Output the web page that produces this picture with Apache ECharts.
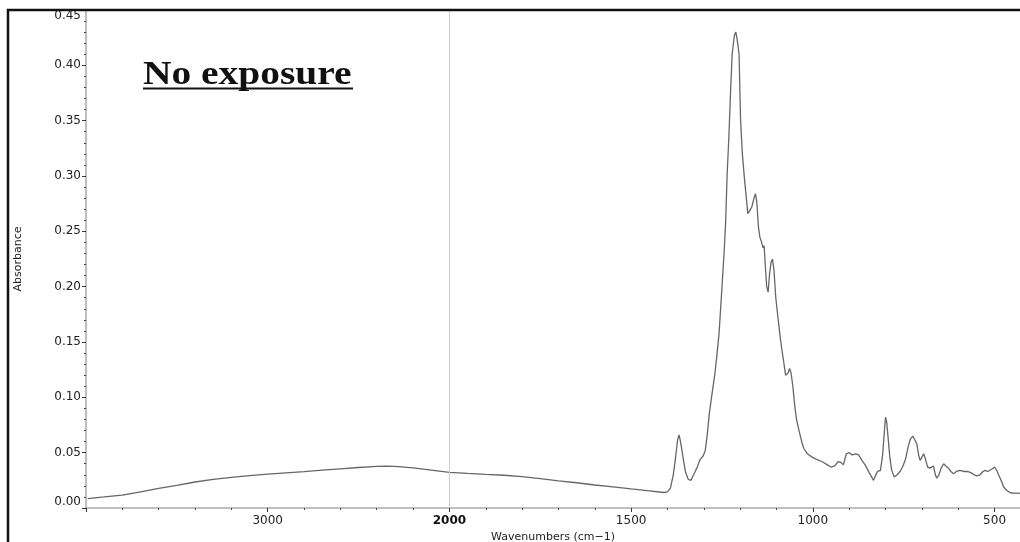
<!DOCTYPE html>
<html>
<head>
<meta charset="utf-8">
<script src="https://cdn.jsdelivr.net/npm/echarts@6/dist/echarts.min.js"></script>
<style>
    html, body { margin: 0; padding: 0; background: #fff; }
    #chart { width: 1020px; height: 542px; }
</style>
</head>
<body>
<div id="chart"></div>
<script>
(function (window) {
    "use strict";

    // 波数 (cm-1)，从高到低
    var wavenumbers = [
        3990, 3900, 3800, 3700, 3600, 3500, 3400, 3300, 3200, 3100, 3000, 2900, 2800, 2700, 2600, 2500,
        2400, 2340, 2280, 2200, 2100, 2000, 1950, 1900, 1850, 1800, 1750, 1700, 1650, 1600, 1550, 1500,
        1450, 1410, 1400, 1392, 1384, 1378, 1372, 1368, 1363, 1356, 1350, 1343, 1336, 1328, 1318, 1310,
        1302, 1296, 1291, 1285, 1278, 1270, 1265, 1258, 1250, 1244, 1240, 1236, 1231, 1226, 1222, 1216,
        1212, 1209, 1206, 1203, 1199, 1194, 1188, 1183, 1179, 1175, 1168, 1162, 1158, 1154, 1150, 1146,
        1141, 1137, 1134, 1131, 1127, 1123, 1119, 1115, 1111, 1107, 1102, 1096, 1089, 1082, 1075, 1068,
        1064, 1060, 1055, 1050, 1045, 1038, 1030, 1025, 1015, 1002, 990, 975, 960, 950, 940, 930,
        922, 916, 908, 900, 892, 882, 874, 865, 856, 845, 833, 828, 822, 814, 808, 803,
        800, 797, 793, 788, 783, 776, 768, 760, 752, 745, 738, 732, 725, 720, 714, 709,
        705, 700, 695, 690, 684, 678, 673, 668, 663, 659, 653, 647, 640, 634, 627, 620,
        613, 605, 595, 585, 575, 565, 556, 549, 540, 532, 526, 519, 514, 508, 500, 494,
        489, 482, 475, 467, 458, 450, 440, 430
    ];

    // 吸光度
    var absorbance = [
        0.0085, 0.0100, 0.0117, 0.0145, 0.0177, 0.0205, 0.0235, 0.0258, 0.0276, 0.0292, 0.0307, 0.0318, 0.0329, 0.0342, 0.0354, 0.0366,
        0.0376, 0.0379, 0.0374, 0.0362, 0.0342, 0.0322, 0.0312, 0.0303, 0.0296, 0.0283, 0.0266, 0.0246, 0.0228, 0.0208, 0.0190, 0.0172,
        0.0155, 0.0140, 0.0145, 0.0180, 0.030, 0.045, 0.062, 0.066, 0.058, 0.043, 0.032, 0.026, 0.025, 0.030, 0.037, 0.044,
        0.047, 0.052, 0.065, 0.085, 0.102, 0.120, 0.135, 0.158, 0.200, 0.232, 0.258, 0.300, 0.336, 0.380, 0.410, 0.427,
        0.430, 0.425, 0.418, 0.410, 0.352, 0.320, 0.297, 0.280, 0.266, 0.268, 0.272, 0.280, 0.284, 0.276, 0.255, 0.245,
        0.240, 0.235, 0.237, 0.220, 0.200, 0.195, 0.212, 0.222, 0.225, 0.215, 0.190, 0.172, 0.152, 0.136, 0.120, 0.122,
        0.126, 0.122, 0.110, 0.093, 0.080, 0.070, 0.059, 0.054, 0.049, 0.046, 0.044, 0.042, 0.039, 0.037, 0.038, 0.042,
        0.041, 0.039, 0.049, 0.050, 0.048, 0.049, 0.048, 0.043, 0.039, 0.032, 0.025, 0.029, 0.033, 0.034, 0.048, 0.070,
        0.082, 0.078, 0.064, 0.045, 0.034, 0.028, 0.030, 0.033, 0.038, 0.044, 0.055, 0.062, 0.065, 0.064, 0.058, 0.048,
        0.043, 0.046, 0.049, 0.044, 0.037, 0.036, 0.036, 0.038, 0.030, 0.027, 0.030, 0.036, 0.040, 0.038, 0.036, 0.033,
        0.031, 0.033, 0.034, 0.033, 0.033, 0.032, 0.030, 0.029, 0.030, 0.033, 0.034, 0.033, 0.032, 0.035, 0.037, 0.034,
        0.030, 0.025, 0.019, 0.016, 0.014, 0.0135, 0.0135, 0.0133
    ];

    // 横轴刻度标签
    var xTicks = [3000, 2000, 1500, 1000, 500];
    var yTicks = [0, 0.05, 0.10, 0.15, 0.20, 0.25, 0.30, 0.35, 0.40, 0.45];

    /**
     * 红外谱图横轴在 2000 处换比例：2000 以上每格 1000，2000 以下每格 500
     */
    var toAxis = function (w) {
        return w >= 2000 ? (4000 - w) / 1000 : 2 + (2000 - w) / 500;
    };
    var fromAxis = function (t) {
        return t <= 2 ? 4000 - t * 1000 : 2000 - (t - 2) * 500;
    };

    var data = wavenumbers.map(function (w, i) {
        return [toAxis(w), absorbance[i]];
    });

    var axisFont = 'DejaVu Sans';
    var myChart = window.echarts.init(document.getElementById('chart'), null, {renderer: 'canvas'});

    var option = {
        backgroundColor: '#fff',
        animation: false,
        grid: {
            left: 86,
            right: 0,
            top: 10,
            bottom: 34,
            outerBoundsMode: 'none'
        },
        xAxis: {
            type: 'value',
            min: 0,
            max: toAxis(430),
            interval: 1,
            name: 'Wavenumbers (cm\u22121)',
            nameLocation: 'middle',
            nameGap: 22,
            nameTextStyle: {
                fontFamily: axisFont,
                fontSize: 11,
                color: '#222'
            },
            axisLine: {
                lineStyle: { color: '#aaa', width: 1.5 }
            },
            axisTick: {
                length: 4,
                lineStyle: { color: '#333' }
            },
            minorTick: {
                show: true,
                splitNumber: 5,
                length: 2,
                lineStyle: { color: '#444' }
            },
            splitLine: { show: false },
            axisLabel: {
                margin: 7,
                fontFamily: axisFont,
                fontSize: 12,
                color: '#222',
                formatter: function (t) {
                    var w = Math.round(fromAxis(t));
                    if (xTicks.indexOf(w) < 0) {
                        return '';
                    }
                    return w === 2000 ? '{b|' + w + '}' : String(w);
                },
                rich: {
                    b: {
                        fontFamily: axisFont,
                        fontSize: 12,
                        fontWeight: 'bold',
                        color: '#111'
                    }
                }
            }
        },
        yAxis: {
            type: 'value',
            min: yTicks[0],
            max: yTicks[yTicks.length - 1],
            interval: 0.05,
            name: 'Absorbance',
            nameLocation: 'middle',
            nameGap: 62,
            nameTextStyle: {
                fontFamily: axisFont,
                fontSize: 11,
                color: '#222'
            },
            axisLine: {
                show: true,
                lineStyle: { color: '#aaa', width: 1.5 }
            },
            axisTick: {
                show: true,
                length: 4,
                lineStyle: { color: '#333' }
            },
            minorTick: {
                show: true,
                splitNumber: 5,
                length: 2,
                lineStyle: { color: '#444' }
            },
            splitLine: { show: false },
            axisLabel: {
                margin: 5,
                fontFamily: axisFont,
                fontSize: 12,
                color: '#222',
                verticalAlignMinLabel: 'bottom',
                verticalAlignMaxLabel: 'top',
                formatter: function (v) {
                    return v.toFixed(2);
                }
            }
        },
        graphic: [
            {
                type: 'rect',
                silent: true,
                shape: { x: 8, y: 10, width: 1200, height: 700 },
                style: { fill: 'none', stroke: '#111', lineWidth: 2.5 },
                z: 100
            },
            {
                type: 'text',
                silent: true,
                x: 143,
                y: 58,
                scaleX: 1.16,
                style: {
                    text: 'No exposure',
                    font: 'bold 34px "Liberation Serif"',
                    fill: '#111'
                }
            },
            {
                type: 'line',
                silent: true,
                shape: { x1: 143, y1: 88.5, x2: 353, y2: 88.5 },
                style: { stroke: '#111', lineWidth: 2 }
            }
        ],
        series: [
            {
                name: 'Absorbance',
                type: 'line',
                data: data,
                showSymbol: false,
                smooth: false,
                lineStyle: {
                    color: '#666',
                    width: 1.3
                },
                markLine: {
                    silent: true,
                    symbol: 'none',
                    label: { show: false },
                    lineStyle: { color: '#ccc', width: 1, type: 'solid' },
                    data: [{ xAxis: toAxis(2000) }]
                }
            }
        ]
    };
    myChart.setOption(option);

})(window);
</script>
</body>
</html>
